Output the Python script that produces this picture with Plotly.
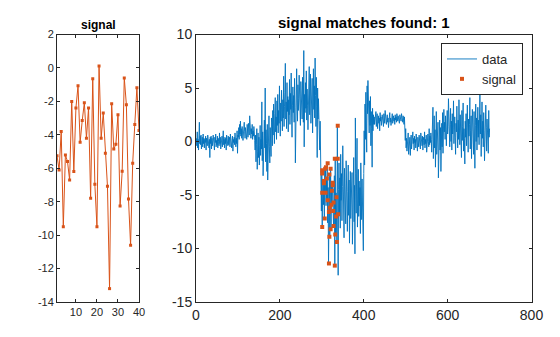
import plotly.graph_objects as go

# ---- left subplot: the signal ----
signal = [-5.25, -6.1, -3.8, -9.5, -5.2, -5.6, -6.7, -2.0, -6.2, -2.4,
          -1.07, -4.45, -3.15, -2.08, -4.2, -2.4, -7.8, -0.65, -6.95, -9.5,
          0.12, -4.2, -2.7, -5.1, -7.07, -13.2, -2.14, -4.85, -4.57, -2.8,
          -8.26, -6.18, -0.6, -2.2, -7.84, -10.6, -5.7, -3.38, -1.19, -3.74]
signal_x = list(range(1, len(signal) + 1))

# ---- right subplot: the data ----
data = [
    0.3, -0.4, 0.9, -0.6, 0.2, -0.8, 1.1, 1.8, -0.2, 0.5,
    -0.3, 0.6, -0.7, 0.1, 0.4, -0.5, 0.7, -0.2, 0.3, -0.6,
    0.2, -0.1, 0.5, -0.8, 0.3, 0.0, -0.4, 0.6, -0.3, 0.1,
    -0.6, 0.2, -1.5, 0.4, -0.2, 0.5, -0.7, 0.3, -0.4, 0.1,
    0.6, -0.3, 0.2, -0.8, 0.4, -0.1, 0.7, -0.5, 0.1, -0.3,
    0.5, -0.6, 0.3, 0.0, -0.4, 0.8, -0.2, 0.4, -0.7, 0.2,
    -0.1, 0.5, -0.5, 0.3, 1.0, -0.3, 0.2, -0.6, 0.4, -0.2,
    0.3, -0.8, 0.6, -0.1, 0.2, -0.4, 0.5, -0.3, 0.1, 0.4,
    -0.5, 0.7, -0.2, 0.3, -0.6, 0.1, 0.5, -0.9, 0.2, -0.1,
    0.4, -0.3, 0.8, 0.0, -0.5, 0.3, -0.2, 1.0, -1.1, 0.6,
    0.4, 1.3, 0.2, 1.6, 0.7, 1.9, 0.5, 1.2, 0.3, 1.4,
    0.8, 0.1, 1.5, 0.6, 1.8, 0.9, 0.3, 1.3, 0.7, 1.1,
    0.2, 1.6, 0.9, 0.4, 1.7, 1.0, 0.6, 2.4, 0.8, 1.5,
    0.3, 1.2, 0.7, 1.6, 0.2, 1.0, 0.5, 1.4, 0.9, 0.1,
    -0.8, 0.6, -1.9, -0.3, 1.2, -2.6, -0.9, 0.8, -1.5, 0.4,
    -2.2, -0.4, 1.5, -1.3, 0.2, -0.7, 3.7, -1.8, 0.9, -3.2,
    0.5, -1.1, 2.0, -0.6, 5.0, -1.9, 1.1, -0.2, -2.8, 1.6,
    -3.6, 0.3, -1.0, 2.4, -0.5, -2.0, 1.3, 0.1, -1.4, 2.2,
    1.8, -0.4, 2.9, 0.6, 3.5, 1.2, -0.2, 2.6, 4.1, 0.9,
    2.3, 0.2, 3.8, 1.5, 4.4, 0.8, 2.9, 1.7, 5.2, 2.0,
    0.5, 3.6, 1.9, 4.8, 2.4, 1.0, 3.9, 2.2, 6.1, 1.4,
    3.3, 4.6, 7.3, 2.1, 3.7, 1.2, 5.5, 2.8, 4.2, 0.9,
    3.9, 2.5, 5.8, 1.6, 4.5, 3.0, 6.4, 2.2, 0.4, 3.4,
    5.1, 2.7, 4.3, 1.8, 5.9, 3.2, -2.0, 4.6, 2.4, 6.8,
    3.5, 1.9, 5.3, 2.9, 4.0, 6.2, 2.6, 3.8, 1.5, 5.6,
    3.0, 4.7, 2.1, 6.0, 3.6, 1.8, 8.5, -0.5, 4.4, 2.7,
    5.5, 3.1, 6.6, 2.0, 4.9, 3.4, 1.1, 5.8, 3.7, 7.0,
    2.5, 4.2, 6.3, 1.7, 4.8, 3.2, 5.9, 0.8, 4.1, 6.8,
    3.0, 5.2, 2.2, 7.8, 4.3, 1.4, 6.0, 3.3, -1.5, 5.0,
    2.1, 4.0, 0.6, 3.2, -0.8, 1.9, -2.4,
    -3.0, -6.5, -2.7, -8.0, -4.8, -3.5, -5.9, -3.9, -7.2, -2.5,
    -4.8, -2.4, -6.0, -3.5, -5.5, -2.0, -7.6, -4.3, -11.4, -6.6,
    -3.1, -8.9, -6.2, -2.6, -8.2, -4.0, -5.9, -4.6, -3.9, -6.5,
    -7.9, -5.7, -3.2, -11.6, -1.6, -8.7, -4.8, -7.0, -9.4, 1.5,
    -6.8, -12.5, -4.5,
    -2.0, -6.8, -3.4, -8.1, -1.2, -5.5, -3.0, -7.4, -4.2, -0.4,
    -6.3, -3.8, -9.0, -2.5, -5.6, -4.0, -7.7, -1.8, -6.1, -3.3,
    -8.4, -4.7, -2.2, -6.9, -3.6, -9.5, -5.0, -2.8, -7.2, -4.4,
    -6.5, -2.9, -9.6, -3.9, -5.8, -1.5, -7.5, -4.1, -10.5, 2.2,
    -3.0, -6.7, -4.5, 0.3, -8.0, -5.2, -2.6, -7.0, -3.7, -6.0,
    -4.3, -8.6, -2.0, -5.4, -7.3, -3.5, -6.2, -4.8, -10.2, -3.0,
    1.0, -2.2, 3.5, 0.2, 4.6, 1.8, -1.0, 5.2, 2.6, 5.7,
    3.0, 4.9, 0.8, 3.8, 1.5, 4.2, -0.4, 2.8, 1.2, -2.4,
    3.1, 1.0, 2.5, 1.6,
    2.3, 1.6, 2.5, 1.9, 2.8, 1.4, 2.1, 2.6, 1.2, 2.0,
    2.4, 1.7, 2.2, 1.0, 2.7, 1.9, 2.3, 1.5, 2.0, 2.5,
    1.8, 2.2, 1.4, 2.6, 2.0, 1.7, 2.9, 1.9, 2.3, 1.6,
    2.1, 2.5, 1.8, 2.2, 1.3, 2.4, 2.0, 2.7, 1.8, 2.2,
    1.5, 2.3, 2.0, 2.6, 1.7, 2.1, 2.4, 1.9, 2.2, 1.6,
    2.5, 2.0, 2.3, 1.8, 2.6, 2.1, 1.9, 2.4, 2.0, 2.2,
    1.7, 2.5, 2.1, 2.3, 1.9, 2.6, 2.0, 2.2, 1.8, 2.4,
    2.1, 1.6, 2.3, 0.9, 0.1, 1.2,
    -0.6, 0.3, -0.9, 0.5, -0.3, 0.8, -1.2, 0.1, -0.5, 0.4,
    -1.3, 0.0, 0.6, -0.7, 0.2, -0.4, 0.9, -0.2, 0.3, -0.8,
    0.5, -0.1, 0.2, -0.6, 0.7, -0.3, 0.1, -0.9, 0.4, 0.0,
    -0.5, 0.6, -0.2, 0.3, -0.7, 0.8, -0.1, 0.2, -0.4, 0.5,
    -0.8, 0.1, 0.4, -0.3, 0.9, -0.6, 0.2, -0.2, 0.6, -1.0,
    0.3, -0.4, 0.7, 0.0, -0.5, 1.2, -0.3, 0.5, -0.1, 0.8,
    0.2, -1.0, 1.5, -0.4, 3.2, -1.6, 0.8, 2.4, -0.6, 1.1,
    -2.4, 0.5, 2.8, -1.2, 0.9, -0.3, 1.8, -3.4, 0.2, -1.5,
    2.0, -0.8, 1.3, -2.8, 0.4, 1.7, -0.5, 2.7, -1.1, 0.6,
    3.0, 0.9, 1.8, 0.2, 2.4, 1.1, -0.4, 1.6, 2.9, 0.7,
    1.4, 4.0, 0.3, 2.2, -0.5, 1.6, 3.1, 0.0, 1.9, -0.8,
    2.6, 0.7, 1.3, 3.8, -0.2, 1.0, 2.3, 0.4, -1.2, 1.7,
    0.9, 3.3, 1.5, -0.6, 2.0, 0.2, 3.9, 1.1, -0.3, 2.5,
    0.6, 1.8, -1.5, 2.9, 0.1, 1.4, 3.6, -0.9, 1.2, 0.3,
    -2.1, 1.9, 0.4, 2.6, -0.4, 1.3, 3.4, 0.8, -1.0, 2.1,
    0.5, 1.6, 4.1, -0.7, 1.0, 2.4, -1.6, 0.9, 3.0, 0.2,
    1.7, -1.2, 2.8, 0.6, -2.5, 1.5, 3.5, 0.0, 2.2, -0.8,
    1.2, 3.2, 0.4, 2.0, -0.3, 1.8, 4.8, 0.7, 2.5, -1.4,
    1.1, 3.7, 0.3, 1.9, -0.5, 2.7, 1.0, -1.8, 2.3, 0.8,
    3.4, 1.3, -0.9, 2.1, 0.5, 1.6, -1.1, 2.9, 0.4, 1.2,
]
data_x = list(range(1, len(data) + 1))

# matched signal markers as drawn on the right subplot
match_x = [338, 331, 338, 314, 310, 308, 321, 301, 301, 318, 312, 305, 305, 326,
           326, 301, 309, 324, 335, 314, 328, 323, 319, 317, 327, 334, 339, 307,
           328, 301, 321, 332, 318, 336, 317, 331]
match_y = [1.47, -1.62, -1.62, -2.03, -2.4, -2.55, -2.55, -2.68, -3.0, -3.08,
           -3.46, -3.7, -3.9, -3.86, -4.1, -4.8, -4.8, -4.6, -5.2, -5.5,
           -5.7, -5.9, -6.2, -6.6, -6.5, -7.0, -6.8, -7.2, -7.9, -8.0,
           -8.2, -8.7, -8.9, -9.4, -11.4, -11.6]

left_title = "signal"
right_title = "signal matches found: 1"
left_xticks = [10, 20, 30, 40]
left_yticks = [2, 0, -2, -4, -6, -8, -10, -12, -14]
right_xticks = [0, 200, 400, 600, 800]
right_yticks = [10, 5, 0, -5, -10, -15]

BLUE = "#0072BD"
ORANGE = "#D95319"
AX = "#262626"
W, H = 560, 337


def lab(v):
    return str(v).replace("\u2212", "-")


fig = go.Figure()
fig.add_trace(go.Scatter(x=signal_x, y=signal, mode="lines+markers",
                         line=dict(color=ORANGE, width=1),
                         marker=dict(symbol="square", size=3, color=ORANGE),
                         showlegend=False, xaxis="x", yaxis="y"))
fig.add_trace(go.Scatter(x=data_x, y=data, mode="lines", name="data",
                         line=dict(color=BLUE, width=0.9),
                         xaxis="x2", yaxis="y2"))
fig.add_trace(go.Scatter(x=match_x, y=match_y, mode="markers", name="signal",
                         marker=dict(symbol="square", size=4, color=ORANGE),
                         xaxis="x2", yaxis="y2"))

ytop = 1 - 34.5 / H
ybot = 1 - 302 / H
common = dict(showline=True, linecolor=AX, linewidth=1, mirror="ticks",
              ticks="inside", ticklen=3, tickcolor=AX, showgrid=False,
              zeroline=False, automargin=False)

fig.update_layout(
    width=W, height=H,
    margin=dict(l=0, r=0, t=0, b=0, autoexpand=False),
    paper_bgcolor="white", plot_bgcolor="white",
    font=dict(family="Liberation Sans, Arial, sans-serif", color=AX),
    xaxis=dict(domain=[57 / W, 139 / W], range=[1, 40], anchor="y",
               tickvals=left_xticks, ticktext=[lab(v) for v in left_xticks],
               tickfont=dict(size=11), **common),
    yaxis=dict(domain=[ybot, ytop], range=[-14, 2], anchor="x",
               tickvals=left_yticks, ticktext=[lab(v) for v in left_yticks],
               tickfont=dict(size=11), **common),
    xaxis2=dict(domain=[196 / W, 531.5 / W], range=[0, 800], anchor="y2",
                tickvals=right_xticks, ticktext=[lab(v) for v in right_xticks],
                tickfont=dict(size=14), **common),
    yaxis2=dict(domain=[ybot, ytop], range=[-15, 10], anchor="x2",
                tickvals=right_yticks, ticktext=[lab(v) for v in right_yticks],
                tickfont=dict(size=14), **common),
    legend=dict(x=523 / W, y=1 - 43 / H, xanchor="right", yanchor="top",
                bgcolor="white", bordercolor=AX, borderwidth=1,
                font=dict(size=13, color=AX), tracegroupgap=0),
    annotations=[
        dict(text="<b>" + left_title + "</b>", x=98 / W, y=1 - 24.5 / H,
             xref="paper", yref="paper", xanchor="center", yanchor="middle",
             showarrow=False, font=dict(size=12, color="#000000")),
        dict(text="<b>" + right_title + "</b>", x=363.5 / W, y=1 - 22.5 / H,
             xref="paper", yref="paper", xanchor="center", yanchor="middle",
             showarrow=False, font=dict(size=15, color="#000000")),
    ],
)

fig.write_html("out.html")
